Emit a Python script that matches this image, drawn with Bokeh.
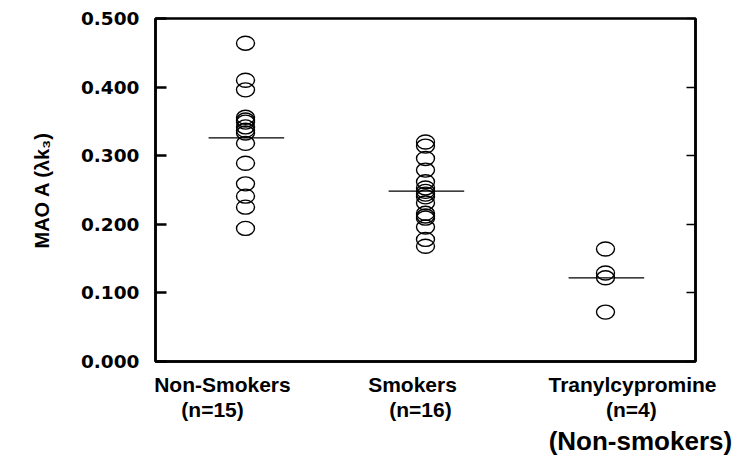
from bokeh.plotting import figure
from bokeh.models import NumeralTickFormatter, FixedTicker, LinearAxis, Range1d
from bokeh.embed import file_html
from bokeh.resources import INLINE

# ---- data ----
categories = ["Non-Smokers", "Smokers", "Tranylcypromine"]
counts = ["(n=15)", "(n=16)", "(n=4)"]
non_smokers = [0.464, 0.410, 0.396, 0.356, 0.352, 0.349, 0.342, 0.337, 0.333,
               0.318, 0.289, 0.259, 0.241, 0.225, 0.194]
smokers = [0.320, 0.314, 0.296, 0.279, 0.262, 0.253, 0.248, 0.244, 0.240,
           0.231, 0.216, 0.212, 0.209, 0.196, 0.178, 0.168]
tranylcypromine = [0.164, 0.129, 0.122, 0.072]
group_means = [0.326, 0.2485, 0.122]
y_ticks = [0.0, 0.1, 0.2, 0.3, 0.4, 0.5]
y_label = "MAO A (\u03bbk\u2083)"
footnote = "(Non-smokers)"

groups = [non_smokers, smokers, tranylcypromine]

p = figure(output_backend="svg", toolbar_location=None,
           frame_width=540, frame_height=343,
           min_border_left=155, min_border_right=42,
           min_border_top=18, min_border_bottom=0,
           x_range=Range1d(0, 3), y_range=Range1d(0, 0.5),
           background_fill_color="white", border_fill_color="white")
p.grid.visible = False
p.outline_line_color = "black"
p.outline_line_width = 2.5

# y axis
ya = p.yaxis[0]
ya.ticker = FixedTicker(ticks=y_ticks)
ya.formatter = NumeralTickFormatter(format="0.000")
ya.major_tick_in = 11
ya.major_tick_out = 0
ya.minor_tick_line_color = None
ya.major_tick_line_width = 2.5
ya.axis_line_width = 2.5
ya.major_label_text_font = "DejaVu Sans"
ya.major_label_text_font_style = "bold"
ya.major_label_text_font_size = "18.5px"
ya.major_label_text_color = "black"
ya.major_label_standoff = 16
ya.axis_label = y_label
ya.axis_label_text_font = "Liberation Sans"
ya.axis_label_text_font_style = "bold"
ya.axis_label_text_font_size = "20px"
ya.axis_label_text_color = "black"
ya.axis_label_standoff = 25

# right axis with inward ticks, no labels
ra = LinearAxis(ticker=FixedTicker(ticks=y_ticks), major_tick_in=9, major_tick_out=0,
                major_label_overrides={t: "" for t in y_ticks},
                minor_tick_line_color=None, axis_line_width=2.5, major_tick_line_width=1.5)
p.add_layout(ra, "right")

# x axis row 1: category names (label positions are layout only)
name_x = [0.372, 1.428, 2.65]
count_x = [0.317, 1.472, 2.644]
foot_x = [2.694]

xa = p.xaxis[0]
xa.ticker = FixedTicker(ticks=name_x)
xa.major_label_overrides = {name_x[i]: categories[i] for i in range(len(categories))}
xa.major_tick_line_color = None
xa.minor_tick_line_color = None
xa.major_tick_out = 0
xa.major_tick_in = 0
xa.axis_line_width = 2.5
xa.major_label_text_font = "Liberation Sans"
xa.major_label_text_font_style = "bold"
xa.major_label_text_font_size = "21px"
xa.major_label_text_color = "black"
xa.major_label_standoff = 11

# x axis row 2: counts
xb = LinearAxis(ticker=FixedTicker(ticks=count_x),
                major_label_overrides={count_x[i]: counts[i] for i in range(len(counts))},
                axis_line_color=None, major_tick_line_color=None, minor_tick_line_color=None,
                major_tick_out=0, major_tick_in=0,
                major_label_text_font="Liberation Sans", major_label_text_font_style="bold",
                major_label_text_font_size="21px", major_label_text_color="black",
                major_label_standoff=-1)
p.add_layout(xb, "below")

# x axis row 3: footnote
xc = LinearAxis(ticker=FixedTicker(ticks=foot_x),
                major_label_overrides={foot_x[0]: footnote},
                axis_line_color=None, major_tick_line_color=None, minor_tick_line_color=None,
                major_tick_out=0, major_tick_in=0,
                major_label_text_font="Liberation Sans", major_label_text_font_style="bold",
                major_label_text_font_size="26px", major_label_text_color="black",
                major_label_standoff=2)
p.add_layout(xc, "below")

# points and mean lines
for i, vals in enumerate(groups):
    xs = [i + 0.5] * len(vals)
    p.ellipse(x=xs, y=vals, width=18, height=14, width_units="screen",
              height_units="screen", fill_color=None, line_color="black",
              line_width=1.4)
    p.segment(x0=[i + 0.5 - 0.205], x1=[i + 0.5 + 0.215],
              y0=[group_means[i]], y1=[group_means[i]],
              line_color="black", line_width=1.3)

open("out.html", "w").write(file_html(p, INLINE))
